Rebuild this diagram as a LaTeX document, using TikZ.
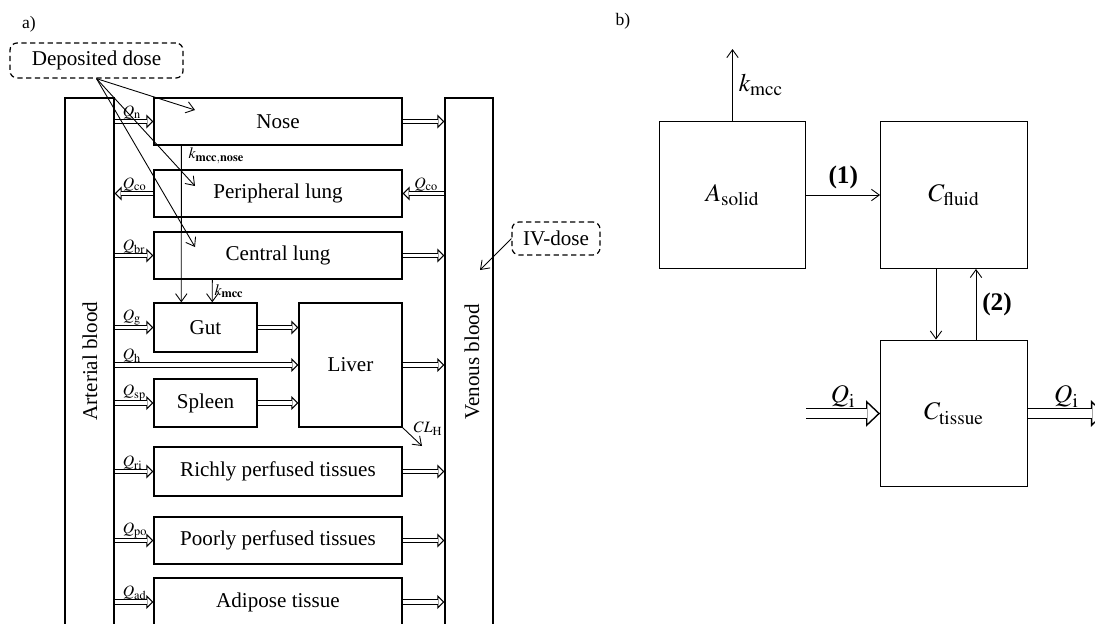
\documentclass[tikz,border=0pt]{standalone}
\usepackage{mathptmx}
\usepackage{fontspec}
\setmainfont{Liberation Serif}
\usetikzlibrary{positioning,arrows.meta,calc}

\tikzset{
  organ/.style={draw, line width=0.8pt, font=\large, inner sep=0pt, minimum height=0.94cm},
  blood/.style={draw, line width=0.8pt, inner sep=0pt},
  dosebox/.style={draw, dash pattern=on 3pt off 2pt, rounded corners=4pt, line width=0.7pt, font=\large, inner sep=2pt},
  comp/.style={draw, line width=0.8pt, minimum size=2.93cm, font=\Large},
  smallhead/.style={line width=0.6pt, -{Triangle[open, fill=white, length=4pt, width=8pt]}},
  smallshaft/.style={double, double distance=1.8pt, line width=0.6pt},
  bighead/.style={line width=0.8pt, -{Triangle[open, fill=white, length=8pt, width=15pt]}},
  bigshaft/.style={double, double distance=5pt, line width=0.8pt},
  thinarrow/.style={line width=0.5pt, -{Straight Barb[length=4.5pt, width=6.5pt]}},
  qin/.style={font=\small, inner sep=1pt, anchor=south west, xshift=0.12cm},
  qback/.style={font=\small, inner sep=1pt, anchor=south east, xshift=-0.08cm},
}
% hollow flow arrow: #1 head length, #2 size, #3 from, #4 to, #5 label
\newcommand{\flowbase}[5]{%
  \draw[#2head] ($(#4)!{2*#1}!(#3)$) -- (#4);
  \draw[#2shaft] (#3) -- ($(#4)!{#1-0.5pt}!(#3)$);
  \path (#3) -- (#4) #5;}
\newcommand{\flow}{\flowbase{4pt}{small}}
\newcommand{\bigflow}{\flowbase{8pt}{big}}

\begin{document}
\begin{tikzpicture}[x=0.02cm, y=-0.02cm]
\useasboundingbox (0,0) rectangle (1095,623);

% panel letters
\node (pa) at (29,24) {a)};
\node (pb) at (623,21) {b)};

% blood pools
\node[blood, minimum width=0.98cm, minimum height=11.04cm] (art) at (89.5,374) {};
\node[rotate=90, font=\large] (artlab) at (90,361) {Arterial blood};
\node[blood, minimum width=0.96cm, minimum height=11.04cm] (ven) at (469,374) {};
\node[rotate=90, font=\large] (venlab) at (472,362) {Venous blood};

% organs
\node[organ, minimum width=4.96cm] (nose) at (278,121.5) {Nose};
\node[organ, minimum width=4.96cm] (peri) at (278,193.5) {Peripheral lung};
\node[organ, minimum width=4.96cm] (cent) at (278,255.5) {Central lung};
\node[organ, minimum width=2.06cm, minimum height=0.98cm] (gut) at (205.5,327.5) {Gut};
\node[organ, minimum width=2.06cm, minimum height=2.48cm] (liver) at (350.5,365) {Liver};
\node[organ, minimum width=2.06cm, minimum height=0.96cm] (spleen) at (205.5,403) {Spleen};
\node[organ, minimum width=4.96cm, minimum height=0.98cm] (rich) at (278,471.5) {Richly perfused tissues};
\node[organ, minimum width=4.96cm] (poor) at (278,540.5) {Poorly perfused tissues};
\node[organ, minimum width=4.96cm, minimum height=0.96cm] (adip) at (278,602) {Adipose tissue};

% blood flows
\flow{art.east |- nose.west}{nose.west}{node[qin, pos=0] {$Q_\mathrm{n}$}}
\flow{nose.east}{nose.east -| ven.west}{}
\flow{peri.west}{art.east |- peri.west}{node[qin, pos=1] {$Q_\mathrm{co}$}}
\flow{ven.west |- peri.east}{peri.east}{node[qback, pos=0] {$Q_\mathrm{co}$}}
\flow{art.east |- cent.west}{cent.west}{node[qin, pos=0] {$Q_\mathrm{br}$}}
\flow{cent.east}{cent.east -| ven.west}{}
\flow{art.east |- gut.west}{gut.west}{node[qin, pos=0] {$Q_\mathrm{g}$}}
\flow{gut.east}{gut.east -| liver.west}{}
\flow{art.east |- liver.west}{liver.west}{node[qin, pos=0] {$Q_\mathrm{h}$}}
\flow{art.east |- spleen.west}{spleen.west}{node[qin, pos=0] {$Q_\mathrm{sp}$}}
\flow{spleen.east}{spleen.east -| liver.west}{}
\flow{liver.east}{liver.east -| ven.west}{}
\flow{art.east |- rich.west}{rich.west}{node[qin, pos=0] {$Q_\mathrm{ri}$}}
\flow{rich.east}{rich.east -| ven.west}{}
\flow{art.east |- poor.west}{poor.west}{node[qin, pos=0] {$Q_\mathrm{po}$}}
\flow{poor.east}{poor.east -| ven.west}{}
\flow{art.east |- adip.west}{adip.west}{node[qin, pos=0] {$Q_\mathrm{ad}$}}
\flow{adip.east}{adip.east -| ven.west}{}

% mucociliary clearance and hepatic clearance
\draw[thinarrow] ([xshift=0.56cm]nose.south west) -- node[pos=0, anchor=north west, font=\small, inner sep=1pt, xshift=0.1cm] {$k_\mathbf{mcc,nose}$} ([xshift=0.56cm]gut.north west);
\draw[thinarrow] ([xshift=1.18cm]cent.south west) -- node[right, font=\small, inner sep=1pt] {$k_\mathbf{mcc}$} ([xshift=1.18cm]gut.north west);
\coordinate (clh) at (422,446);
\draw[thinarrow] (liver.south east) -- node[anchor=south west, font=\small, inner sep=0.5pt] {$CL_\mathrm{H}$} (clh);

% doses
\node[dosebox, minimum width=3.46cm, minimum height=0.7cm] (dep) at (96.5,60.5) {Deposited dose};
\coordinate (dnose) at (195,110);
\coordinate (dperi) at (195,186);
\coordinate (dcent) at (195,247);
\draw[thinarrow] (dep.south) -- (dnose);
\draw[thinarrow] (dep.south) -- (dperi);
\draw[thinarrow] (dep.south) -- (dcent);
\node[dosebox, minimum width=1.76cm, minimum height=0.66cm] (iv) at (556,238.5) {IV-dose};
\coordinate (ivtip) at (480,270);
\draw[thinarrow] (iv.west) -- (ivtip);

% compartment model
\node[comp] (solid) at (732.5,195) {$A_\mathrm{solid}$};
\node[comp] (fluid) at (954,195) {$C_\mathrm{fluid}$};
\node[comp] (tissue) at (954,413.5) {$C_\mathrm{tissue}$};
\coordinate (kout) at (732.5,49);
\coordinate (qiin) at (806,413.5);
\coordinate (qiout) at (1105,413.5);
\draw[thinarrow] (solid.north) -- node[right, font=\Large] {$k_\mathrm{mcc}$} (kout);
\draw[thinarrow] (solid.east) -- node[above, font=\Large\bfseries] {(1)} (fluid.west);
\draw[thinarrow] ([xshift=-0.36cm]fluid.south) -- ([xshift=-0.36cm]tissue.north);
\draw[thinarrow] ([xshift=0.44cm]tissue.north) -- node[right, font=\Large\bfseries] {(2)} ([xshift=0.44cm]fluid.south);
\bigflow{qiin}{tissue.west}{node[midway, above, font=\Large] {$Q_\mathrm{i}$}}
\bigflow{tissue.east}{qiout}{node[midway, above, font=\Large] {$Q_\mathrm{i}$}}
\end{tikzpicture}
\end{document}
